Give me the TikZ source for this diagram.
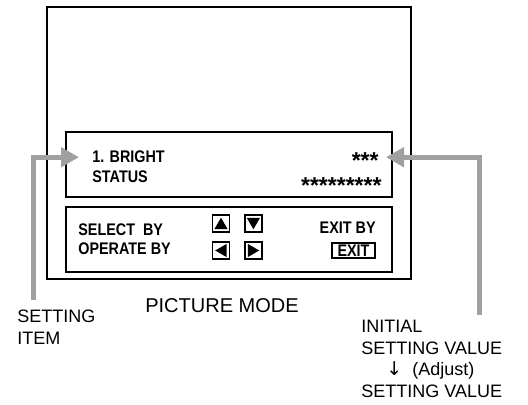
\documentclass[tikz,border=0pt]{standalone}
\usepackage{fontspec}
\setmainfont{Liberation Sans}
\newfontfamily\panelfont[FakeStretch=0.855]{Liberation Sans}
\newfontfamily\symfont{DejaVu Sans}
\usetikzlibrary{positioning,arrows.meta,shapes.geometric}
\definecolor{pointgray}{RGB}{160,160,160}
\tikzset{
  screen/.style ={draw, line width=1.2pt, minimum width=182pt, minimum height=136pt, inner sep=0pt},
  panel/.style  ={draw, line width=0.7pt, minimum width=163pt, minimum height=32.5pt, inner sep=0pt},
  ptxt/.style   ={font=\panelfont\bfseries\fontsize{8.4}{10}\selectfont, inner sep=0pt},
  stars/.style  ={font=\bfseries\fontsize{11.5}{12}\selectfont, inner sep=0pt},
  key/.style    ={draw, line width=0.7pt, minimum size=8.5pt, inner sep=0pt},
  tri/.style    ={regular polygon, regular polygon sides=3, fill=black, minimum size=7.6pt, inner sep=0pt},
  exitkey/.style={ptxt, draw, line width=1pt, minimum width=21.5pt, minimum height=7.5pt},
  note/.style   ={font=\fontsize{9}{10.8}\selectfont, align=left, inner sep=0pt},
  garr/.style   ={draw=pointgray, line width=2.5pt, -{Triangle[length=9pt,width=9.5pt]}},
}
\begin{document}
\begin{tikzpicture}[x=0.5pt,y=-0.5pt]
\useasboundingbox (0,0) rectangle (528,405);
% screen and its two panels
\node[screen] (scr) at (229,143) {};
\node[panel] (menu) at (229,164.5) {};
\node[panel] (guide) at (229,239.5) {};

\node[ptxt,anchor=base west] (brt) at (92,163) {1. BRIGHT};
\node[ptxt,anchor=base west] (stat) at (92,183) {STATUS};
\node[stars,anchor=north east] (val) at (379,152) {***};
\node[stars,anchor=north east] (statval) at (382,177) {*********};

\node[ptxt,anchor=base west] (sel) at (78,235) {SELECT~ BY};
\node[ptxt,anchor=base west] (opr) at (78,254) {OPERATE BY};
\node[ptxt,anchor=base east] (exitby) at (376,234) {EXIT BY};
\node[exitkey] (exitk) at (353.5,250.5) {EXIT};

% cursor keys
\node[key] (kup) at (221,223.5) {};
\node[key,right=7pt of kup] (kdown) {};
\node[key] (kleft) at (221,250.5) {};
\node[key,right=7pt of kleft] (kright) {};
\node[tri] (mup) at ([yshift=-0.9pt]kup) {};
\node[tri,shape border rotate=180] (mdown) at ([yshift=0.9pt]kdown) {};
\node[tri,shape border rotate=90] (mleft) at ([xshift=0.9pt]kleft) {};
\node[tri,shape border rotate=-90] (mright) at ([xshift=-0.9pt]kright) {};

\node[font=\fontsize{10}{12}\selectfont,anchor=base] (mode) at (222,312) {PICTURE MODE};

% pointers
\node[note,anchor=north west] (itemlbl) at (17,310) {SETTING\\ITEM};
\node[note,anchor=north west] (vallbl) at (361,320)
  {INITIAL\\SETTING VALUE\\\hspace*{12.5pt}{\symfont\fontsize{9.5}{10.8}\selectfont ↓}\hspace{5pt}(Adjust)\\SETTING VALUE};
\coordinate (itemfoot) at (33.5,300);
\coordinate (valfoot) at (479,315);
\draw[garr] (itemfoot) |- ([xshift=-6.5pt]brt.west);
\draw[garr] (valfoot) |- ([xshift=3.5pt]val.east |- brt.west);
\end{tikzpicture}
\end{document}
